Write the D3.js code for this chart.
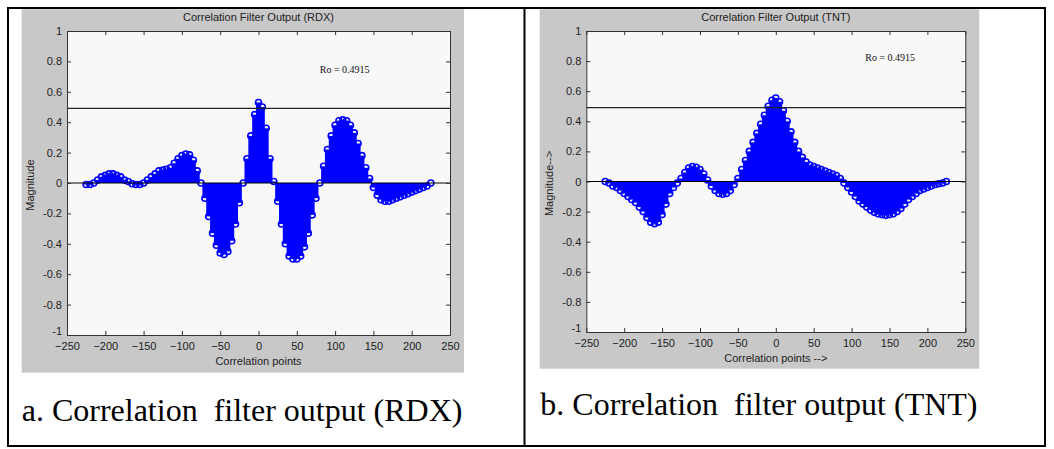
<!DOCTYPE html>
<html>
<head>
<meta charset="utf-8">
<script src="https://cdn.jsdelivr.net/npm/d3@7"></script>
<style>
  html, body { margin: 0; padding: 0; background: #ffffff; }
  svg { display: block; }
</style>
</head>
<body>
<svg id="fig" width="1054" height="449"></svg>
<script>
// Correlation lag (points) of each stem
const lags = [-225,-220,-215,-210,-205,-200,-195,-190,-185,-180,-175,-170,-165,-160,-155,-150,
  -145,-140,-135,-130,-125,-120,-115,-110,-105,-100,-95,-90,-85,-80,-75,-70,-65,-60,-55,-50,
  -45,-40,-35,-30,-25,-20,-15,-10,-5,0,5,10,15,20,25,30,35,40,45,50,55,60,65,70,75,80,85,90,
  95,100,105,110,115,120,125,130,135,140,145,150,155,160,165,170,175,180,185,190,195,200,205,
  210,215,220,225];

// Correlation filter output for RDX
const rdxOutput = [-0.01,-0.01,0.00,0.02,0.04,0.05,0.06,0.06,0.05,0.04,0.02,0.01,-0.005,-0.01,
  -0.01,0.00,0.02,0.04,0.06,0.08,0.085,0.09,0.10,0.13,0.16,0.18,0.19,0.185,0.15,0.08,0.00,
  -0.10,-0.22,-0.33,-0.41,-0.46,-0.47,-0.45,-0.38,-0.27,-0.13,0.00,0.16,0.31,0.45,0.53,0.50,
  0.36,0.16,0.01,-0.12,-0.27,-0.40,-0.48,-0.50,-0.50,-0.48,-0.42,-0.33,-0.21,-0.10,0.00,0.11,
  0.22,0.31,0.38,0.41,0.415,0.41,0.38,0.33,0.26,0.18,0.10,0.03,-0.03,-0.08,-0.11,-0.12,-0.12,
  -0.11,-0.10,-0.09,-0.08,-0.07,-0.06,-0.05,-0.04,-0.03,-0.02,0.00];

// Correlation filter output for TNT
const tntOutput = [0.00,-0.01,-0.03,-0.04,-0.06,-0.08,-0.10,-0.12,-0.14,-0.17,-0.20,-0.24,-0.27,
  -0.28,-0.27,-0.22,-0.15,-0.08,-0.04,-0.01,0.02,0.06,0.09,0.10,0.095,0.08,0.05,0.01,-0.03,
  -0.06,-0.08,-0.085,-0.08,-0.06,-0.02,0.02,0.08,0.14,0.20,0.26,0.32,0.38,0.44,0.50,0.54,0.555,
  0.53,0.47,0.40,0.33,0.26,0.20,0.16,0.13,0.11,0.10,0.09,0.08,0.07,0.06,0.05,0.04,0.02,-0.01,
  -0.04,-0.07,-0.10,-0.13,-0.15,-0.17,-0.19,-0.205,-0.215,-0.22,-0.225,-0.22,-0.215,-0.20,
  -0.18,-0.15,-0.12,-0.10,-0.08,-0.06,-0.05,-0.04,-0.03,-0.02,-0.015,-0.01,0.00];

const xTickValues = [-250,-200,-150,-100,-50,0,50,100,150,200,250];
const yTickValues = [-1,-0.8,-0.6,-0.4,-0.2,0,0.2,0.4,0.6,0.8,1];
const threshold = 0.4915;
const thresholdLabel = "Ro = 0.4915";
const panelTitles = ["Correlation Filter Output (RDX)", "Correlation Filter Output (TNT)"];
const xAxisLabels = ["Correlation points", "Correlation points -->"];
const yAxisLabels = ["Magnitude", "Magnitude-->"];
const captions = ["a. Correlation  filter output (RDX)", "b. Correlation  filter output (TNT)"];

const svg = d3.select("#fig");
const SANS = "'Liberation Sans', Arial, sans-serif";
const SERIF = "'Liberation Serif', 'Times New Roman', serif";

// outer table frame and cell divider
svg.append("rect").attr("x", 8).attr("y", 8).attr("width", 1037).attr("height", 438)
  .attr("fill", "none").attr("stroke", "#000").attr("stroke-width", 2);
svg.append("line").attr("x1", 524.5).attr("x2", 524.5).attr("y1", 8).attr("y2", 446)
  .attr("stroke", "#000").attr("stroke-width", 2);

const layouts = [
  { panel: [21.7, 9.3, 442.3, 363.4], plot: [67, 450, 31, 335], ro: [80, 0.75],
    caption: [21.7, 420.7] },
  { panel: [539.7, 9.3, 439.6, 359.4], plot: [586.3, 965.3, 31, 332], ro: [118, 0.825],
    caption: [540.3, 415] }
];
const series = [rdxOutput, tntOutput];

function fmtY(v) { return v === 0 ? "0" : String(+v.toFixed(1)); }

layouts.forEach((L, i) => {
  const g = svg.append("g");
  const [px, py, pw, ph] = L.panel;
  const [x0, x1, y0, y1] = L.plot;

  g.append("rect").attr("x", px).attr("y", py).attr("width", pw).attr("height", ph)
    .attr("fill", "#c8c8c8");
  g.append("rect").attr("x", x0).attr("y", y0).attr("width", x1 - x0).attr("height", y1 - y0)
    .attr("fill", "#f8f8f8");

  const x = d3.scaleLinear().domain([-250, 250]).range([x0, x1]);
  const y = d3.scaleLinear().domain([-1, 1]).range([y1, y0]);
  const vals = series[i];
  const pts = lags.map((l, k) => ({ l, v: vals[k] }));

  // stems (wide enough that neighbouring stems merge into a solid fill)
  g.append("g").selectAll("line").data(pts).join("line")
    .attr("x1", d => x(d.l)).attr("x2", d => x(d.l))
    .attr("y1", y(0)).attr("y2", d => y(d.v))
    .attr("stroke", "#0000ff").attr("stroke-width", 5);
  // circle markers
  g.append("g").selectAll("circle").data(pts).join("circle")
    .attr("cx", d => x(d.l)).attr("cy", d => y(d.v)).attr("r", 3)
    .attr("fill", "none").attr("stroke", "#0000ff").attr("stroke-width", 1.6);

  // baseline and threshold
  g.append("line").attr("x1", x(-250)).attr("x2", x(250)).attr("y1", y(0)).attr("y2", y(0))
    .attr("stroke", "#000").attr("stroke-width", 1.2);
  g.append("line").attr("x1", x(-250)).attr("x2", x(250))
    .attr("y1", y(threshold)).attr("y2", y(threshold))
    .attr("stroke", "#222").attr("stroke-width", 1.2);

  // axes: ticks pointing inward on all four sides
  const axisStyle = sel => {
    sel.selectAll("path.domain").attr("stroke", "#333");
    sel.selectAll(".tick line").attr("stroke", "#333");
    sel.selectAll("text").attr("fill", "#222").style("font-family", SANS).style("font-size", "11px");
  };
  g.append("g").attr("transform", `translate(0,${y1})`)
    .call(d3.axisBottom(x).tickValues(xTickValues).tickSize(-4).tickSizeOuter(0)
      .tickPadding(7).tickFormat(d3.format("d")))
    .call(axisStyle);
  g.append("g").attr("transform", `translate(0,${y0})`)
    .call(d3.axisTop(x).tickValues(xTickValues).tickSize(-4).tickSizeOuter(0).tickFormat(""))
    .call(axisStyle);
  g.append("g").attr("transform", `translate(${x0},0)`)
    .call(d3.axisLeft(y).tickValues(yTickValues).tickSize(-4).tickSizeOuter(0)
      .tickPadding(5).tickFormat(fmtY))
    .call(axisStyle)
    // the bottom label sits a little higher so it clears the x tick labels
    .selectAll(".tick text").filter(d => d === -1).attr("dy", "-0.05em");
  g.append("g").attr("transform", `translate(${x1},0)`)
    .call(d3.axisRight(y).tickValues(yTickValues).tickSize(-4).tickSizeOuter(0).tickFormat(""))
    .call(axisStyle);

  // titles and labels
  const cx = (x0 + x1) / 2;
  g.append("text").attr("x", cx).attr("y", y0 - 10).attr("text-anchor", "middle")
    .style("font-family", SANS).style("font-size", "11px").attr("fill", "#222")
    .text(panelTitles[i]);
  g.append("text").attr("x", cx).attr("y", y1 + 30).attr("text-anchor", "middle")
    .style("font-family", SANS).style("font-size", "11px").attr("fill", "#222")
    .text(xAxisLabels[i]);
  g.append("text").attr("transform", `translate(${x0 - 37},${(y0 + y1) / 2 + 2}) rotate(-90)`)
    .attr("text-anchor", "middle").attr("dy", "0.35em")
    .style("font-family", SANS).style("font-size", "11px").attr("fill", "#222")
    .text(yAxisLabels[i]);
  g.append("text").attr("x", x(L.ro[0])).attr("y", y(L.ro[1]) + 3.5)
    .style("font-family", SERIF).style("font-size", "10px").attr("fill", "#111")
    .text(thresholdLabel);

  // caption under the figure
  svg.append("text").attr("x", L.caption[0]).attr("y", L.caption[1])
    .style("font-family", SERIF).style("font-size", "32px").style("white-space", "pre")
    .attr("fill", "#000").text(captions[i]);
});
</script>
</body>
</html>
